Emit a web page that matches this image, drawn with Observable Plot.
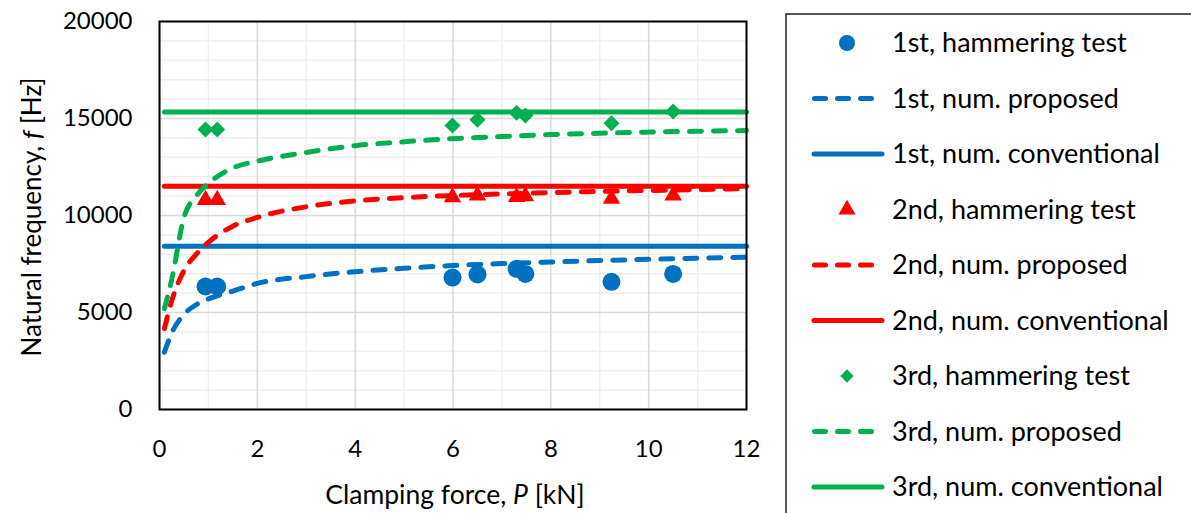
<!DOCTYPE html>
<html>
<head>
<meta charset="utf-8">
<script src="https://cdn.jsdelivr.net/npm/d3@7"></script>
<script src="https://cdn.jsdelivr.net/npm/@observablehq/plot@0.6"></script>
<style>
  html, body { margin: 0; padding: 0; background: #fff; }
  #chart { width: 1191px; height: 513px; overflow: hidden; }
</style>
</head>
<body>
<div id="chart"></div>
<script>
// ---- data ----
const testP = [0.94, 1.18, 5.99, 6.50, 7.30, 7.48, 9.24, 10.50];
const test1st = [6340, 6340, 6800, 6960, 7250, 6990, 6580, 6990];
const test2nd = [10800, 10800, 10940, 11030, 10950, 11000, 10860, 11030];
const test3rd = [14430, 14430, 14640, 14930, 15290, 15150, 14760, 15360];

const propP = [0.1, 0.25, 0.5, 0.75, 1, 1.5, 2, 3, 4, 5, 6, 7, 8, 9, 10, 11, 12];
const prop1st = [2950, 3950, 4900, 5400, 5700, 6100, 6500, 6850, 7100, 7280, 7420, 7520, 7600, 7680, 7740, 7800, 7850];
const prop2nd = [4170, 5600, 7160, 8000, 8620, 9450, 9900, 10450, 10750, 10920, 11030, 11110, 11180, 11240, 11290, 11340, 11380];
const prop3rd = [5200, 6700, 9900, 11000, 11650, 12450, 12800, 13250, 13600, 13800, 13960, 14070, 14170, 14240, 14300, 14340, 14380];

const convP = [0.1, 12];
const conv1st = 8420;
const conv2nd = 11510;
const conv3rd = 15330;

const xTicks = [0, 2, 4, 6, 8, 10, 12];
const yTicks = [0, 5000, 10000, 15000, 20000];
const xMinor = [1, 3, 5, 7, 9, 11];
const yMinor = [1000, 2000, 3000, 4000, 6000, 7000, 8000, 9000, 11000, 12000, 13000, 14000, 16000, 17000, 18000, 19000];

const seriesNames = [
  "1st, hammering test", "1st, num. proposed", "1st, num. conventional",
  "2nd, hammering test", "2nd, num. proposed", "2nd, num. conventional",
  "3rd, hammering test", "3rd, num. proposed", "3rd, num. conventional"
];
const colors = ["#0070C0", "#FF0000", "#00B050"];
const symbols = ["circle", "triangle", "diamond2"];

// ---- build tables ----
const tests = [test1st, test2nd, test3rd];
const props = [prop1st, prop2nd, prop3rd];
const convs = [conv1st, conv2nd, conv3rd];

const FONT = "Lato, 'Open Sans', sans-serif";
const dash = "12,12";

const marks = [
  Plot.ruleX(xMinor, {stroke: "#efefef", strokeWidth: 1.5}),
  Plot.ruleY(yMinor, {stroke: "#efefef", strokeWidth: 1.5}),
  Plot.ruleX(xTicks, {stroke: "#d9d9d9", strokeWidth: 1.5}),
  Plot.ruleY(yTicks, {stroke: "#d9d9d9", strokeWidth: 1.5})
];

for (let k = 0; k < 3; k++) {
  const conv = convP.map(p => ({p, f: convs[k]}));
  marks.push(Plot.line(conv, {x: "p", y: "f", stroke: colors[k], strokeWidth: 5, strokeLinecap: "round"}));
}
for (let k = 0; k < 3; k++) {
  const pr = propP.map((p, i) => ({p, f: props[k][i]}));
  marks.push(Plot.line(pr, {x: "p", y: "f", stroke: colors[k], strokeWidth: 5, strokeDasharray: dash, strokeLinecap: "round", curve: "monotone-x"}));
}
const dotR = [9, 6.5, 7.2];
for (let k = 0; k < 3; k++) {
  const pts = testP.map((p, i) => ({p, f: tests[k][i]}));
  marks.push(Plot.dot(pts, {x: "p", y: "f", fill: colors[k], stroke: "none", r: dotR[k], symbol: symbols[k]}));
}

marks.push(Plot.frame({stroke: "#000", strokeWidth: 2}));
marks.push(Plot.axisX(xTicks, {tickSize: 0, tickPadding: 30, label: null, fontSize: 24}));
marks.push(Plot.axisY(yTicks, {tickSize: 0, tickPadding: 27, label: null, fontSize: 24, tickFormat: d => String(d)}));

const svg = Plot.plot({
  width: 1191,
  height: 513,
  marginLeft: 159,
  marginRight: 445,
  marginTop: 21,
  marginBottom: 104,
  x: {domain: [0, 12]},
  y: {domain: [0, 20000]},
  style: {fontFamily: FONT, fontSize: "24px", color: "#000", background: "#fff"},
  marks
});

const s = d3.select(svg);

// axis titles with italic symbols
const xl = s.append("text")
  .attr("x", 455).attr("y", 504)
  .attr("text-anchor", "middle")
  .attr("font-family", FONT).attr("font-size", 26.5).attr("fill", "#000");
xl.append("tspan").text("Clamping force, ");
xl.append("tspan").attr("font-style", "italic").text("P");
xl.append("tspan").text(" [kN]");

const yl = s.append("text")
  .attr("transform", "translate(41,217) rotate(-90)")
  .attr("text-anchor", "middle")
  .attr("font-family", FONT).attr("font-size", 26).attr("fill", "#000");
yl.append("tspan").text("Natural frequency, ");
yl.append("tspan").attr("font-style", "italic").text("f");
yl.append("tspan").text(" [Hz]");

// legend
const lg = s.append("g").attr("text-anchor", "start");
lg.append("rect").attr("x", 786).attr("y", 14).attr("width", 500).attr("height", 600)
  .attr("fill", "#fff").attr("stroke", "#222").attr("stroke-width", 1.5);
const symGen = {
  circle: d3.symbol(d3.symbolCircle, Math.PI * 8 * 8),
  triangle: d3.symbol(d3.symbolTriangle, 125),
  diamond2: d3.symbol(d3.symbolDiamond2, 113)
};
seriesNames.forEach((name, i) => {
  const k = Math.floor(i / 3), t = i % 3;
  const cy = 43 + i * 55.5;
  if (t === 0) {
    lg.append("path").attr("d", symGen[symbols[k]]()).attr("transform", `translate(847,${cy})`).attr("fill", colors[k]);
  } else if (t === 1) {
    lg.append("line").attr("x1", 814.5).attr("x2", 872).attr("y1", cy).attr("y2", cy)
      .attr("stroke", colors[k]).attr("stroke-width", 5).attr("stroke-linecap", "round")
      .attr("stroke-dasharray", "11,12");
  } else {
    lg.append("line").attr("x1", 814).attr("x2", 882).attr("y1", cy).attr("y2", cy)
      .attr("stroke", colors[k]).attr("stroke-width", 5).attr("stroke-linecap", "round");
  }
  lg.append("text").attr("x", 892).attr("y", cy).attr("dy", "0.35em").attr("text-anchor", "start")
    .attr("font-family", FONT).attr("font-size", 27).attr("fill", "#000").text(name);
});

document.getElementById("chart").appendChild(svg);
</script>
</body>
</html>
